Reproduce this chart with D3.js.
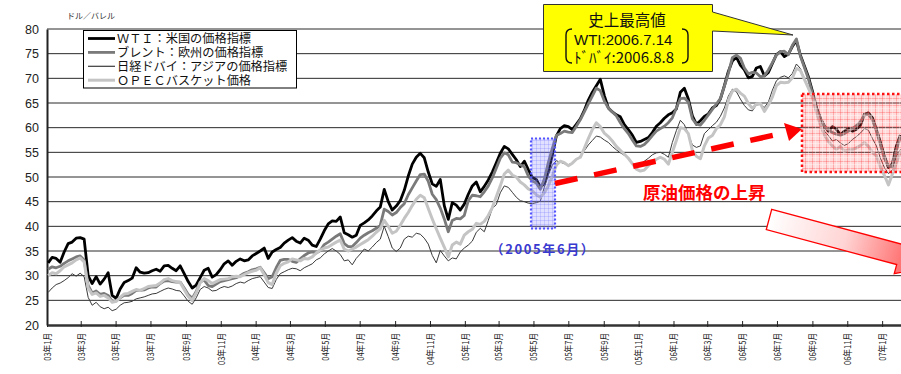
<!DOCTYPE html>
<html><head><meta charset="utf-8">
<script src="https://cdn.jsdelivr.net/npm/d3@7"></script>
<style>body{margin:0;background:#fff}svg{display:block}</style>
</head><body>
<svg id="chart" width="901" height="374"></svg>
<script>
// Weekly closing prices (USD/bbl), Fridays from 2003-01-03 to 2007-02-02
const wti = [
32.6,33.7,33.5,32.7,34.8,36.5,36.8,37.6,37.7,37.4,
30.0,28.4,29.8,28.3,29.3,30.6,26.0,25.4,27.3,28.6,
29.0,29.5,31.6,30.7,30.5,30.6,31.0,31.3,30.9,32.0,
32.1,31.5,31.0,32.0,30.4,28.8,27.5,28.1,29.6,31.1,
31.5,29.7,30.2,31.2,32.4,33.0,32.1,32.9,33.4,33.0,
33.2,34.0,34.5,35.0,35.6,33.5,34.8,35.3,35.7,36.6,
37.2,37.7,37.0,36.6,37.6,37.2,36.2,35.9,37.4,39.1,
40.5,41.1,41.0,41.9,38.7,38.3,37.8,38.2,40.2,40.7,
41.3,42.1,43.1,43.9,47.5,45.0,43.3,44.1,45.2,47.3,
50.2,52.6,54.0,54.8,53.9,51.0,48.6,48.1,49.5,44.2,
41.4,44.8,44.3,43.3,44.5,46.5,48.2,49.0,47.0,48.1,
49.4,51.0,52.9,54.8,56.2,55.7,54.6,53.5,52.1,53.2,
51.5,49.9,49.5,48.0,48.6,51.2,54.4,58.3,59.8,60.4,
60.2,59.6,60.7,61.8,63.5,65.6,67.2,68.5,69.8,66.5,
64.0,63.2,62.6,62.2,60.6,59.6,58.5,57.0,57.2,57.6,
58.0,59.0,60.3,61.0,61.9,62.6,63.0,63.8,67.2,68.0,
65.8,62.4,60.7,61.4,62.3,62.8,64.0,64.5,65.8,68.5,
71.4,73.5,74.3,72.7,71.7,70.1,70.4,72.1,72.4,70.5,
71.2,73.0,74.8,75.4,74.4,74.9,76.5,77.6,74.7,72.5,
70.3,67.4,64.1,61.9,60.3,59.3,60.2,59.7,58.5,59.3,
59.8,59.3,59.7,60.5,62.7,63.0,62.0,59.6,57.0,54.2,
51.9,52.7,56.3,58.5];

const brent = [
31.3,31.8,31.6,31.9,32.5,33.0,33.4,33.8,34.0,33.2,
28.0,26.5,26.9,26.2,26.4,26.0,24.8,24.9,25.5,26.0,
26.0,26.4,27.0,27.0,27.1,27.5,27.7,27.7,28.4,28.9,
29.0,28.8,28.7,28.7,27.5,26.2,25.4,26.8,28.7,29.1,
28.0,27.8,28.3,28.8,29.0,29.2,29.4,29.6,30.0,30.5,
30.8,31.2,31.4,31.7,30.6,29.4,29.8,31.6,33.1,33.3,
33.3,32.9,32.7,33.4,34.1,34.6,34.8,34.6,35.1,36.3,
36.8,37.4,38.0,38.5,36.5,35.9,35.9,36.7,37.6,38.2,
38.7,39.1,39.6,40.2,43.5,43.0,42.3,42.8,43.8,44.6,
46.4,47.8,49.2,50.5,50.6,49.1,46.5,45.4,43.7,41.5,
38.9,41.2,41.6,41.5,42.2,45.2,46.3,46.2,46.0,47.0,
48.2,49.8,51.8,53.8,54.9,54.5,53.0,52.9,52.5,52.1,
50.2,49.2,48.8,47.5,49.6,52.9,55.8,58.4,58.8,59.3,
59.1,59.0,60.3,61.6,63.2,64.8,66.4,68.0,67.5,65.4,
64.0,63.2,62.4,61.0,59.8,58.8,57.5,56.3,56.2,56.6,
57.4,58.4,59.3,59.8,60.3,61.0,62.0,64.0,65.9,66.0,
65.2,61.8,60.7,60.5,61.5,62.6,63.7,64.8,65.9,68.4,
71.0,74.2,74.7,74.1,72.1,70.9,71.2,71.1,70.3,70.5,
71.7,73.2,74.7,75.4,75.5,74.8,76.7,78.0,74.5,72.2,
69.9,67.0,63.8,61.8,60.3,59.6,59.0,58.7,58.5,58.8,
59.3,59.8,60.4,61.2,62.6,62.7,61.6,59.3,56.5,53.8,
52.2,52.1,55.4,58.3];

const dubai = [
26.6,27.5,28.2,28.5,29.0,29.6,30.4,29.9,30.5,29.8,
25.6,24.0,24.6,23.7,23.3,23.6,22.9,23.2,24.0,24.5,
24.6,24.8,25.3,25.5,25.7,26.0,26.3,26.4,26.8,27.2,
27.5,27.3,27.0,26.9,25.9,24.8,24.2,25.5,27.2,27.8,
27.5,26.9,27.0,27.5,27.8,27.6,27.9,28.4,28.7,28.5,
29.0,29.4,29.6,29.8,28.7,27.6,27.4,29.2,30.4,30.8,
31.2,31.5,31.4,31.0,31.6,32.0,32.4,33.2,33.6,34.4,
35.0,35.5,35.0,34.3,33.0,33.2,32.2,33.5,34.4,35.4,
35.0,35.8,36.7,37.4,40.0,37.9,35.6,34.9,35.6,37.4,
38.0,37.8,38.6,38.4,37.6,36.4,34.1,32.6,35.1,34.0,
33.0,33.6,33.4,34.8,35.6,36.2,37.0,38.8,39.6,38.9,
41.2,43.6,44.4,46.8,48.2,47.9,46.9,45.9,45.2,45.0,
44.7,44.6,44.8,45.1,47.9,50.4,52.4,53.3,53.0,52.7,
52.5,52.8,53.5,54.2,55.3,56.5,57.4,58.3,58.1,57.5,
57.0,56.2,55.5,54.9,54.4,53.6,52.8,52.2,52.6,53.2,
53.8,54.5,54.9,55.0,54.6,54.0,57.0,59.4,61.5,60.6,
58.7,56.5,56.0,56.3,58.8,59.6,60.4,61.1,62.3,64.0,
66.4,67.8,67.3,65.8,64.5,63.6,63.4,64.6,64.7,64.1,
65.2,67.6,69.5,70.2,70.5,70.1,71.0,72.9,72.0,70.0,
68.3,66.4,63.8,61.7,59.3,58.4,57.3,57.6,56.9,56.4,
56.8,57.6,58.2,58.9,59.8,59.5,57.8,56.3,53.8,51.9,
50.7,51.4,54.2,55.6];

const opec = [
30.0,30.6,30.4,31.0,31.8,32.2,32.6,33.2,33.6,32.8,
27.5,26.2,26.5,25.8,26.0,25.5,24.6,24.8,25.6,26.3,
26.4,26.8,27.2,27.0,27.4,27.8,27.9,28.0,28.5,29.2,
29.4,29.0,28.8,28.6,27.2,25.8,25.0,26.5,28.6,29.4,
29.0,28.4,28.8,29.2,29.3,29.4,29.8,29.9,29.8,30.2,
30.6,30.9,31.1,31.6,30.2,28.6,28.2,30.5,32.0,32.5,
32.8,33.4,33.2,33.0,33.5,33.4,33.8,34.6,35.2,35.6,
35.8,36.3,36.8,37.2,35.4,35.0,35.4,35.8,36.3,36.8,
37.3,38.0,38.8,39.5,41.2,40.0,38.6,39.0,40.2,41.6,
42.8,44.2,45.5,46.3,45.8,43.6,41.5,39.5,37.6,35.8,
33.8,36.2,36.8,36.4,38.2,38.9,39.4,40.6,40.4,41.0,
42.2,43.8,46.0,48.2,50.6,51.4,50.4,50.0,49.0,48.4,
47.6,47.2,46.4,45.9,46.8,48.2,50.2,52.4,53.2,52.9,
52.3,52.8,53.6,54.0,55.8,57.8,59.6,61.0,60.2,58.9,
58.2,57.3,56.2,55.4,54.6,53.8,52.7,51.6,51.2,51.4,
52.3,53.0,53.6,54.0,53.6,52.6,55.0,57.4,60.0,59.8,
58.8,55.4,54.2,53.7,56.3,57.9,58.4,59.8,60.6,62.2,
65.6,67.4,67.8,67.0,66.4,64.9,63.9,64.8,64.9,63.3,
64.6,66.2,68.5,69.2,69.1,69.2,70.1,72.0,71.6,69.8,
68.0,66.2,63.2,60.6,58.5,57.2,56.3,55.6,56.2,55.2,
55.5,55.5,55.9,56.4,57.0,56.2,55.0,54.3,52.0,50.3,
48.4,50.6,52.9,55.1];

const seriesNames = ["ＷＴＩ：米国の価格指標", "ブレント：欧州の価格指標", "日経ドバイ：アジアの価格指標", "ＯＰＥＣバスケット価格"];
const yTicks = [20, 25, 30, 35, 40, 45, 50, 55, 60, 65, 70, 75, 80];
const tickLabels = ["03年1月","03年3月","03年5月","03年7月","03年9月","03年11月",
  "04年1月","04年3月","04年5月","04年7月","04年9月","04年11月",
  "05年1月","05年3月","05年5月","05年7月","05年9月","05年11月",
  "06年1月","06年3月","06年5月","06年7月","06年9月","06年11月","07年1月"];

const svg = d3.select("#chart");
const chartW = 901, plotLeft = 47, plotTop = 29, plotBottom = 325;
const jp = "'Noto Sans CJK JP','Noto Sans',sans-serif";
const lat = "'Liberation Sans',Arial,sans-serif";

const weeks = d3.timeFriday.range(new Date(2003, 0, 3), new Date(2007, 1, 3));
const tickDates = d3.timeMonth.every(2).range(new Date(2003, 0, 1), new Date(2007, 0, 2));

const x = d3.scaleTime().domain([new Date(2003, 0, 1), new Date(2007, 1, 3)]).range([plotLeft, chartW]);
const y = d3.scaleLinear().domain([20, 80]).range([plotBottom, plotTop]);

const defs = svg.append("defs");
defs.append("clipPath").attr("id", "plot").append("rect")
  .attr("x", plotLeft).attr("y", 0).attr("width", chartW - plotLeft).attr("height", plotBottom);

// pink grid texture
const pk = defs.append("pattern").attr("id", "pinkgrid").attr("patternUnits", "userSpaceOnUse")
  .attr("width", 7).attr("height", 7);
pk.append("rect").attr("width", 7).attr("height", 7).attr("fill", "rgba(255,90,90,0.22)");
pk.append("path").attr("d", "M0,0.5H7M0.5,0V7").attr("stroke", "rgba(255,60,60,0.30)").attr("stroke-width", 1);
pk.append("path").attr("d", "M0,3.5H7M3.5,0V7").attr("stroke", "rgba(255,255,255,0.35)").attr("stroke-width", 1);

// blue hatch texture
const bl = defs.append("pattern").attr("id", "bluegrid").attr("patternUnits", "userSpaceOnUse")
  .attr("width", 4).attr("height", 4);
bl.append("rect").attr("width", 4).attr("height", 4).attr("fill", "rgba(130,130,255,0.24)");
bl.append("path").attr("d", "M0,0.5H4M0.5,0V4").attr("stroke", "rgba(100,100,255,0.22)").attr("stroke-width", 1);

const grad = defs.append("linearGradient").attr("id", "fall").attr("x1", 0).attr("x2", 1).attr("y1", 0).attr("y2", 0);
grad.append("stop").attr("offset", 0).attr("stop-color", "#ffffff");
grad.append("stop").attr("offset", 0.45).attr("stop-color", "#ffd4d4");
grad.append("stop").attr("offset", 1).attr("stop-color", "#ff3a3a");

// gridlines
svg.append("g").selectAll("line").data(yTicks.filter(v => v > 20)).join("line")
  .attr("x1", plotLeft).attr("x2", chartW).attr("y1", d => y(d)).attr("y2", d => y(d))
  .attr("stroke", "#2a2a2a").attr("stroke-width", 1);

// y axis
const yAxis = svg.append("g").attr("transform", `translate(${plotLeft},0)`)
  .call(d3.axisLeft(y).tickValues(yTicks).tickSize(0).tickPadding(8));
yAxis.select(".domain").attr("stroke", "#222").attr("stroke-width", 2);
yAxis.selectAll("text").attr("font-family", lat).attr("font-size", 12.5).attr("fill", "#222");

// x axis
const xAxis = svg.append("g").attr("transform", `translate(0,${plotBottom})`)
  .call(d3.axisBottom(x).tickValues(tickDates).tickSize(0).tickFormat((d, i) => tickLabels[i]));
xAxis.select(".domain").attr("stroke", "#333").attr("stroke-width", 2.5);
xAxis.selectAll(".tick").append("line").attr("y1", -4).attr("y2", 2).attr("stroke", "#222").attr("stroke-width", 1);
xAxis.selectAll(".tick text")
  .attr("font-family", jp).attr("font-size", 9.5).attr("fill", "#222")
  .attr("text-anchor", "end").attr("dy", "0.35em").attr("y", null)
  .attr("transform", "translate(0,8) rotate(-90) scale(0.8,1)");

// unit label
svg.append("text").attr("x", 67).attr("y", 19).attr("font-family", jp).attr("font-size", 8)
  .attr("fill", "#333").text("ドル／バレル");

// series
const series = [
  { v: wti, color: "#000000", w: 2.8 },
  { v: brent, color: "#7a7a7a", w: 2.8 },
  { v: dubai, color: "#3a3a3a", w: 1 },
  { v: opec, color: "#c4c4c4", w: 3 }
];
const line = d3.line().x((d, i) => x(weeks[i])).y(d => y(d));
const lines = svg.append("g").attr("clip-path", "url(#plot)");
series.forEach(s => {
  lines.append("path").attr("d", line(s.v)).attr("fill", "none")
    .attr("stroke", s.color).attr("stroke-width", s.w).attr("stroke-linejoin", "round");
});

// legend
const lg = svg.append("g");
lg.append("rect").attr("x", 83.5).attr("y", 30.5).attr("width", 213).attr("height", 57.5)
  .attr("fill", "#fff").attr("stroke", "#000").attr("stroke-width", 1);
series.forEach((s, i) => {
  const yy = 38.5 + i * 13.9;
  lg.append("line").attr("x1", 88).attr("x2", 115).attr("y1", yy).attr("y2", yy)
    .attr("stroke", s.color).attr("stroke-width", s.w === 1 ? 1.2 : s.w);
  lg.append("text").attr("x", 117).attr("y", yy).attr("dy", "0.36em")
    .attr("font-family", jp).attr("font-size", 12.2).attr("fill", "#111").text(seriesNames[i]);
});

// 2005 June highlight
svg.append("rect").attr("x", 531).attr("y", 138.5).attr("width", 24).attr("height", 90)
  .attr("fill", "url(#bluegrid)").attr("stroke", "#5555ff").attr("stroke-width", 2.2)
  .attr("stroke-dasharray", "2,2");
svg.append("text").attr("x", 543).attr("y", 254).attr("text-anchor", "middle")
  .attr("font-family", jp).attr("font-size", 13).attr("font-weight", "bold")
  .attr("letter-spacing", 1.6).attr("fill", "#3a3ad0").text("（2005年6月）");

// falling-price zone
svg.append("rect").attr("x", 802).attr("y", 94).attr("width", 106).attr("height", 78)
  .attr("fill", "url(#pinkgrid)").attr("stroke", "#ff1010").attr("stroke-width", 2.5)
  .attr("stroke-dasharray", "2.5,2.5");

// rising trend arrow
svg.append("line").attr("x1", 555).attr("y1", 183.5).attr("x2", 786).attr("y2", 132.5)
  .attr("stroke", "#ff0000").attr("stroke-width", 5.5).attr("stroke-dasharray", "23,17");
svg.append("path").attr("d", "M802,129 L784,123 L789,141 Z").attr("fill", "#ff0000");
svg.append("text").attr("x", 643).attr("y", 199).attr("font-family", jp).attr("font-size", 17.5)
  .attr("font-weight", "bold").attr("fill", "#ff0000").text("原油価格の上昇");

// falling arrow (head lies beyond the right edge)
svg.append("g").attr("transform", "translate(769,219.5) rotate(15)")
  .append("path").attr("d", "M0,-10.5 L135,-10.5 L135,-20 L175,0 L135,20 L135,10.5 L0,10.5 Z")
  .attr("fill", "url(#fall)").attr("stroke", "#ff0000").attr("stroke-width", 1.3);

// record-high callout
const co = svg.append("g");
co.append("path").attr("d", "M543.5,4.5 H712.5 V12 L793,35 L712.5,31 V71.5 H543.5 Z")
  .attr("fill", "#ffff00").attr("stroke", "#333").attr("stroke-width", 1);
co.append("text").attr("x", 627).attr("y", 26).attr("text-anchor", "middle")
  .attr("font-family", jp).attr("font-size", 15.5).attr("fill", "#111").text("史上最高値");
co.append("text").attr("x", 574).attr("y", 45).attr("font-family", lat).attr("font-size", 15)
  .attr("fill", "#111").text("WTI:2006.7.14");
co.append("text").attr("x", 574).attr("y", 63).attr("font-family", jp).attr("font-size", 15)
  .attr("fill", "#111").text("ﾄﾞﾊﾞｲ:2006.8.8");
co.append("path").attr("d", "M572,29 Q566,29 566,35 V57 Q566,63 572,63")
  .attr("fill", "none").attr("stroke", "#111").attr("stroke-width", 1.4);
co.append("path").attr("d", "M682,29 Q688,29 688,35 V57 Q688,63 682,63")
  .attr("fill", "none").attr("stroke", "#111").attr("stroke-width", 1.4);
</script>
</body></html>
